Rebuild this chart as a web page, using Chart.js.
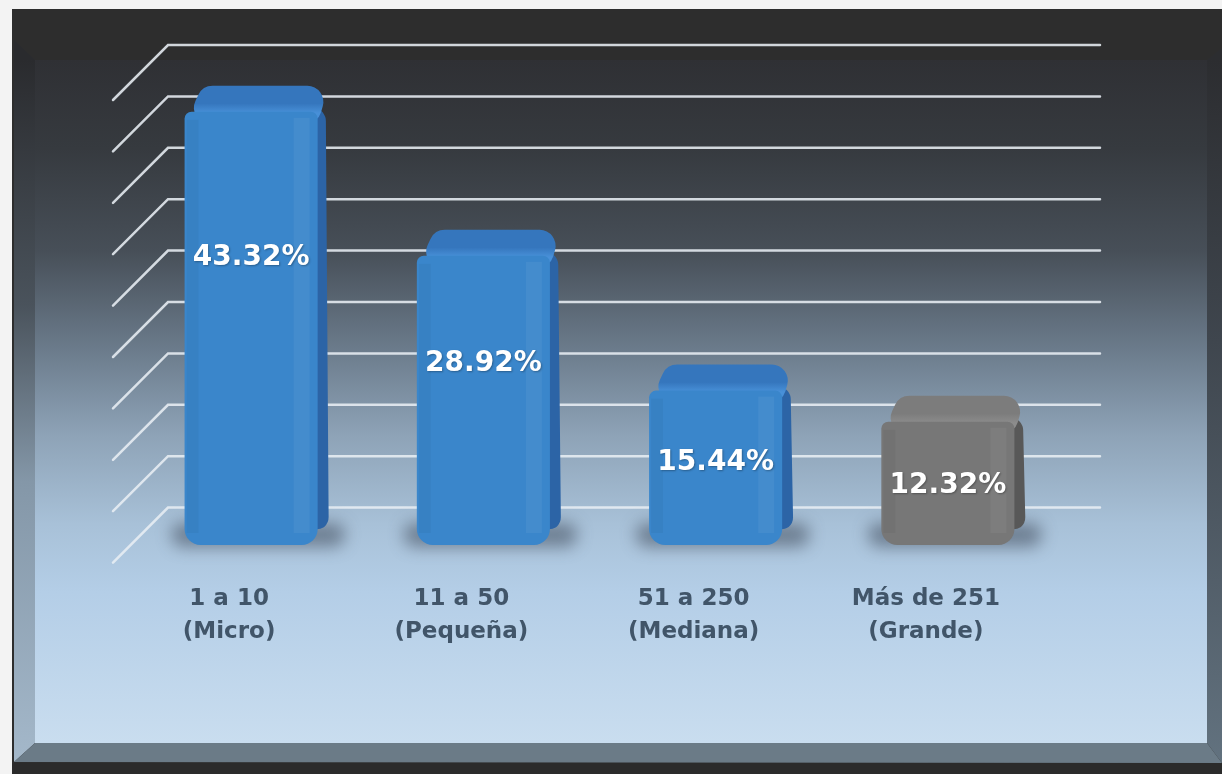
<!DOCTYPE html>
<html>
<head>
<meta charset="utf-8">
<script src="https://cdn.jsdelivr.net/npm/chart.js@4.4.1/dist/chart.umd.min.js"></script>
<style>
  html, body { margin: 0; padding: 0; background: #f3f3f3; }
  #wrap { width: 1222px; height: 774px; position: relative; }
</style>
</head>
<body>
<div id="wrap"><canvas id="chart"></canvas></div>
<script>
const categories = [
  ['1 a 10', '(Micro)'],
  ['11 a 50', '(Pequeña)'],
  ['51 a 250', '(Mediana)'],
  ['Más de 251', '(Grande)']
];
const values = [43.32, 28.92, 15.44, 12.32];
const valueLabels = ['43.32%', '28.92%', '15.44%', '12.32%'];
const yMax = 50;
const yStep = 5;

// colours per bar: front / side / top(back) / top(front)
const blue = { front: '#3a86cb', side: '#2c64a6', topBack: '#3576bd', topFront: '#4890d8' };
const gray = { front: '#777777', side: '#585858', topBack: '#7c7c7c', topFront: '#8c8c8c' };
const barStyles = [blue, blue, blue, gray];

const DX = 11;   // depth of the extrusion, x
const DY = 26;   // depth of the extrusion, y

const roundPoly = (ctx, pts, r) => {
  ctx.beginPath();
  const n = pts.length;
  const start = [(pts[n - 1][0] + pts[0][0]) / 2, (pts[n - 1][1] + pts[0][1]) / 2];
  ctx.moveTo(start[0], start[1]);
  for (let i = 0; i < n; i++) {
    const p = pts[i];
    const q = pts[(i + 1) % n];
    ctx.arcTo(p[0], p[1], q[0], q[1], r);
  }
  ctx.closePath();
};

const framePlugin = {
  id: 'frame',
  beforeDraw(chart) {
    const { ctx } = chart;
    ctx.save();
    ctx.fillStyle = '#f3f3f3';
    ctx.fillRect(0, 0, 1222, 774);
    // outer dark frame
    ctx.fillStyle = '#2d2d2d';
    ctx.fillRect(12, 9, 1210, 765);
    // inner panel
    const g = ctx.createLinearGradient(0, 60, 0, 743);
    g.addColorStop(0, '#2f3034');
    g.addColorStop(0.13, '#363a3f');
    g.addColorStop(0.28, '#474f58');
    g.addColorStop(0.42, '#6a7a8a');
    g.addColorStop(0.55, '#8ea3b7');
    g.addColorStop(0.68, '#a8c1d8');
    g.addColorStop(0.78, '#b4cee7');
    g.addColorStop(1, '#c9ddef');
    ctx.fillStyle = g;
    ctx.fillRect(35, 60, 1172, 683);
    // left bevel
    const gl = ctx.createLinearGradient(0, 60, 0, 763);
    gl.addColorStop(0, '#2a2b2e');
    gl.addColorStop(0.35, '#4a535c');
    gl.addColorStop(0.6, '#8497a8');
    gl.addColorStop(1, '#a4b8ca');
    ctx.fillStyle = gl;
    ctx.beginPath();
    ctx.moveTo(14, 40); ctx.lineTo(35, 60); ctx.lineTo(35, 743); ctx.lineTo(14, 762);
    ctx.closePath(); ctx.fill();
    // right bevel
    const gr = ctx.createLinearGradient(0, 60, 0, 763);
    gr.addColorStop(0, '#2c2d30');
    gr.addColorStop(0.4, '#3f464e');
    gr.addColorStop(1, '#62727f');
    ctx.fillStyle = gr;
    ctx.beginPath();
    ctx.moveTo(1207, 60); ctx.lineTo(1222, 48); ctx.lineTo(1222, 763); ctx.lineTo(1207, 743);
    ctx.closePath(); ctx.fill();
    // bottom bevel
    ctx.fillStyle = '#6b7b87';
    ctx.beginPath();
    ctx.moveTo(14, 762); ctx.lineTo(35, 743); ctx.lineTo(1207, 743); ctx.lineTo(1222, 763);
    ctx.closePath(); ctx.fill();
    ctx.fillStyle = '#2b2b2b';
    ctx.fillRect(12, 763, 1210, 11);
    ctx.restore();
  },
  beforeDatasetsDraw(chart) {
    const { ctx, chartArea } = chart;
    const yScale = chart.scales.y;
    ctx.save();
    // back wall grid lines with their diagonal floor strokes
    ctx.strokeStyle = 'rgba(232,238,244,0.88)';
    ctx.lineWidth = 2.5;
    ctx.lineCap = 'round';
    for (let v = yStep; v <= yMax; v += yStep) {
      const yFront = yScale.getPixelForValue(v);
      const y = chartArea.top + (yFront - chartArea.top) * 1.028;
      const x0 = chartArea.left + 33;
      ctx.beginPath();
      ctx.moveTo(x0 - 55, y + 55);
      ctx.lineTo(x0, y);
      ctx.lineTo(chartArea.right + 36, y);
      ctx.stroke();
    }
    const meta = chart.getDatasetMeta(0);
    meta.data.forEach((bar, i) => {
      const s = barStyles[i];
      const xl = bar.x - bar.width / 2;
      const xr = bar.x + bar.width / 2;
      const top = bar.y;
      const base = bar.base;
      // floor shadow
      ctx.save();
      ctx.filter = 'blur(8px)';
      ctx.fillStyle = 'rgba(45,55,68,0.48)';
      roundPoly(ctx, [[xl - 16, base - 22], [xr + 30, base - 22], [xr + 24, base + 2], [xl - 10, base + 2]], 10);
      ctx.fill();
      ctx.restore();
      // side face
      ctx.fillStyle = s.side;
      roundPoly(ctx, [[xr - 14, top], [xr + DX - 3, top - DY + 3], [xr + DX, base - 22], [xr - 14, base]], 13);
      ctx.fill();
      // top face
      const gt = ctx.createLinearGradient(0, top - DY, 0, top + 6);
      gt.addColorStop(0, s.topBack);
      gt.addColorStop(0.55, s.topBack);
      gt.addColorStop(0.85, s.topFront);
      gt.addColorStop(1, s.topFront);
      ctx.fillStyle = gt;
      roundPoly(ctx, [[xl, top + 12], [xl + 18, top - DY], [xr + DX, top - DY], [xr, top + 12]], 16);
      ctx.fill();
    });
    ctx.restore();
  },
  afterDatasetsDraw(chart) {
    const { ctx } = chart;
    const meta = chart.getDatasetMeta(0);
    ctx.save();
    meta.data.forEach((bar, i) => {
      const xl = bar.x - bar.width / 2;
      const xr = bar.x + bar.width / 2;
      const top = bar.y;
      const base = bar.base;
      // soft highlights on the front face
      ctx.fillStyle = 'rgba(255,255,255,0.05)';
      ctx.fillRect(xr - 24, top + 6, 16, base - top - 18);
      ctx.fillStyle = 'rgba(0,0,0,0.035)';
      ctx.fillRect(xl + 2, top + 8, 12, base - top - 20);
      // value label
      const y = top + 32 + 0.263 * (base - top);
      ctx.font = 'bold 28px "DejaVu Sans"';
      ctx.textAlign = 'center';
      ctx.textBaseline = 'middle';
      ctx.shadowColor = 'rgba(0,0,0,0.3)';
      ctx.shadowBlur = 2;
      ctx.shadowOffsetX = 1;
      ctx.shadowOffsetY = 1;
      ctx.fillStyle = '#ffffff';
      ctx.fillText(valueLabels[i], bar.x, y);
      ctx.shadowColor = 'transparent';
    });
    ctx.restore();
  }
};

new Chart(document.getElementById('chart'), {
  type: 'bar',
  data: {
    labels: categories,
    datasets: [{
      data: values,
      backgroundColor: barStyles.map(s => s.front),
      borderWidth: 0,
      borderSkipped: false,
      borderRadius: { topLeft: 7, topRight: 7, bottomLeft: 16, bottomRight: 16 },
      barPercentage: 0.573,
      categoryPercentage: 1
    }]
  },
  options: {
    responsive: true,
    maintainAspectRatio: false,
    animation: false,
    layout: { padding: { left: 135, right: 158, top: 45, bottom: 0 } },
    plugins: { legend: { display: false }, tooltip: { enabled: false } },
    scales: {
      x: {
        grid: { display: false, drawTicks: false },
        border: { display: false },
        ticks: {
          color: '#415569',
          font: { family: '"DejaVu Sans"', size: 23, weight: 'bold', lineHeight: 1.43 },
          padding: 38,
          labelOffset: -22,
          maxRotation: 0
        },
        afterFit(scale) { scale.height = 229; }
      },
      y: {
        display: false,
        min: 0,
        max: yMax,
        ticks: { stepSize: yStep }
      }
    }
  },
  plugins: [framePlugin]
});
</script>
</body>
</html>
